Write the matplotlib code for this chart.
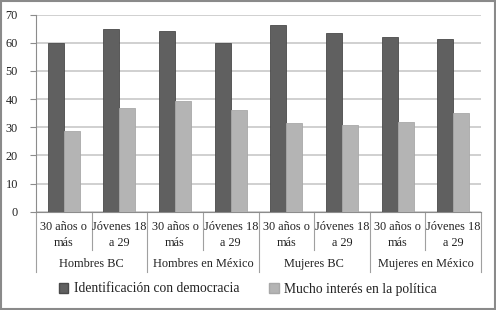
import matplotlib
matplotlib.use("Agg")
import matplotlib.pyplot as plt
from matplotlib.patches import Patch, Rectangle
from matplotlib.transforms import blended_transform_factory

# datos
subgrupos = ["30 años o\nmás", "Jóvenes 18\na 29"] * 4
grupos = ["Hombres BC", "Hombres en México", "Mujeres BC", "Mujeres en México"]
democracia = [60, 65, 64.3, 60, 66.5, 63.4, 61.9, 61.3]
interes = [28.8, 36.9, 39.4, 36.1, 31.4, 30.8, 31.9, 35.1]
serie_nombres = ["Identificación con democracia", "Mucho interés en la política"]
yticks = [0, 10, 20, 30, 40, 50, 60, 70]

plt.rcParams["font.family"] = ["Liberation Serif", "DejaVu Serif"]

W, H = 496, 310
fig = plt.figure(figsize=(W / 100, H / 100), dpi=100)
fig.patch.set_facecolor("white")

# marco exterior
fig.patches.append(Rectangle((0.002, 0.003), 0.995, 0.994, transform=fig.transFigure,
                             fill=False, edgecolor="#8a8a8a", linewidth=1.5))

x0, x1 = 36, 481
ytop, ybot = 14.7, 211.7
ax = fig.add_axes([x0 / W, (H - ybot) / H, (x1 - x0) / W, (ybot - ytop) / H])

w = 0.288
n = len(democracia)
xs = [i + 0.5 for i in range(n)]
ax.bar([x - w / 2 for x in xs], democracia, width=w, color="#606060",
       edgecolor="#4a4a4a", linewidth=0.6, zorder=3)
ax.bar([x + w / 2 for x in xs], interes, width=w, color="#b4b4b4",
       edgecolor="#a8a8a8", linewidth=0.6, zorder=3)

ax.set_xlim(0, n)
ax.set_ylim(0, 70)
ax.set_yticks(yticks)
ax.yaxis.grid(True, color="#c8c8c8", linewidth=1.2, zorder=0)
ax.set_axisbelow(True)
for s in ["top", "right"]:
    ax.spines[s].set_visible(False)
ax.spines["left"].set_color("#8c8c8c")
ax.spines["bottom"].set_color("#8c8c8c")
ax.tick_params(axis="y", length=4, width=0.8, color="#8c8c8c", pad=9, labelsize=8.8,
               labelcolor="#222222")
ax.set_xticks([])

tr = blended_transform_factory(ax.transData, ax.transAxes)
hpx = ybot - ytop

def ay(py):
    return -(py - ybot) / hpx

# separadores y etiquetas de categorias
for i in range(n + 1):
    bajo = 272 if i % 2 == 0 else 250
    ax.plot([i, i], [0, ay(bajo)], transform=tr, clip_on=False,
            color="#a0a0a0", linewidth=0.8)
for i, lab in enumerate(subgrupos):
    ax.text(xs[i], ay(235), lab, transform=tr, ha="center", va="center",
            fontsize=8.8, color="#222222", linespacing=1.4)
for j, g in enumerate(grupos):
    ax.text(2 * j + 1, ay(264), g, transform=tr, ha="center", va="center",
            fontsize=8.8, color="#222222")

handles = [Patch(facecolor="#606060", edgecolor="#4a4a4a"),
           Patch(facecolor="#b4b4b4", edgecolor="#a8a8a8")]
fig.legend(handles, serie_nombres, loc="center", bbox_to_anchor=(0.5, (H - 289) / H),
           ncol=2, frameon=False, fontsize=9.8, handlelength=0.7, handleheight=0.7,
           handletextpad=0.4, columnspacing=2.2, labelcolor="#222222")

fig.savefig("out.png", dpi=100)
